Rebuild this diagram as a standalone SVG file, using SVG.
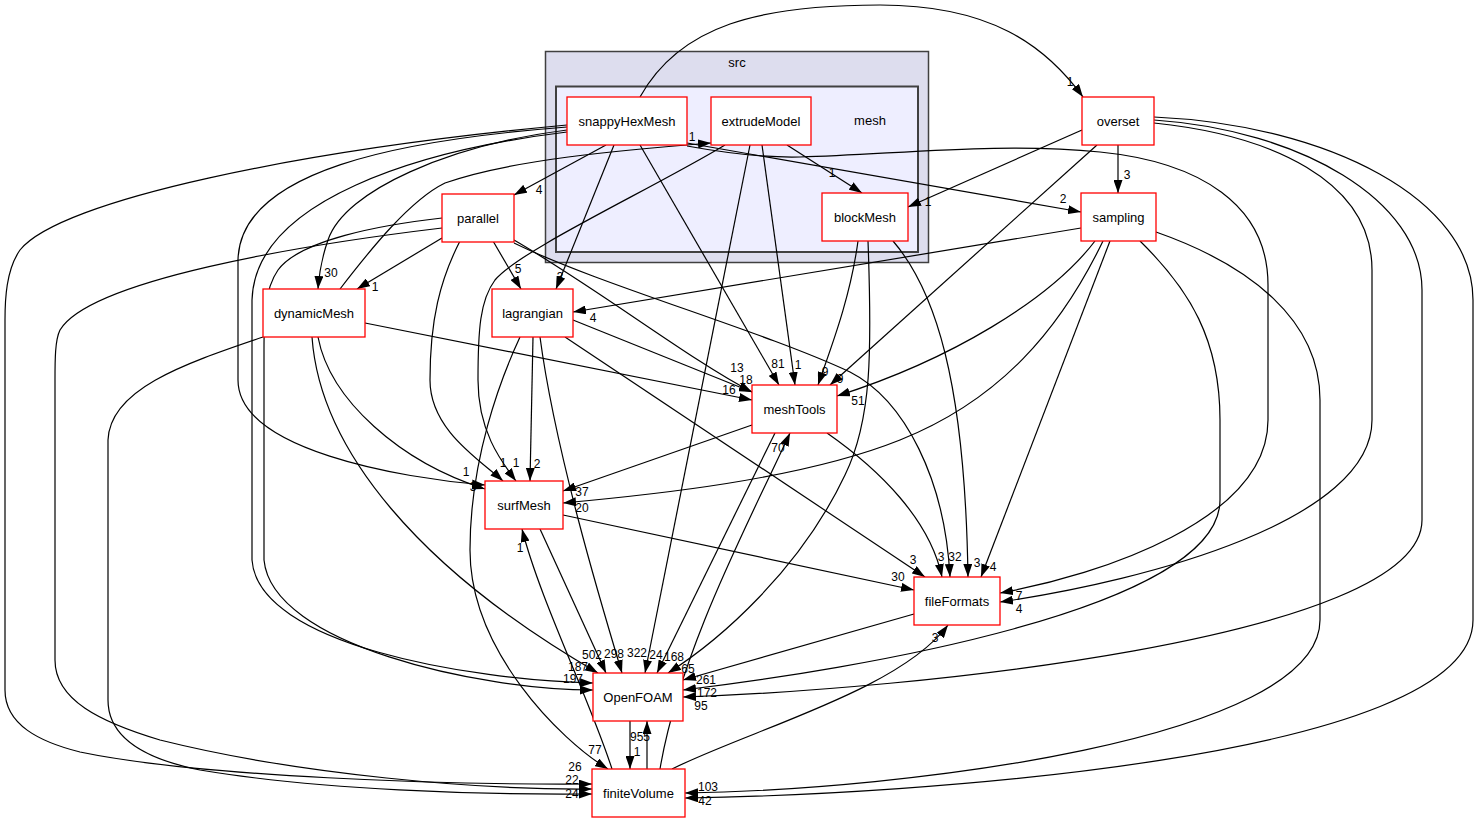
<svg xmlns="http://www.w3.org/2000/svg" width="1479" height="823" viewBox="0 0 1479 823">
<style>
.node rect{fill:#ffffff;stroke:#ff0000;stroke-width:1.3}
.node text{font-family:"Liberation Sans",Arial,sans-serif;font-size:13px;text-anchor:middle;fill:#000}
.edges path{fill:none;stroke:#000;stroke-width:1.2;marker-end:url(#ah)}
.lbl{font-family:"Liberation Sans",Arial,sans-serif;font-size:12px;text-anchor:middle;fill:#000}
.ctext{font-family:"Liberation Sans",Arial,sans-serif;font-size:13px;text-anchor:middle;fill:#000}
</style>
<defs>
<marker id="ah" viewBox="0 0 13 9" refX="13" refY="4.5" markerWidth="13" markerHeight="9" markerUnits="userSpaceOnUse" orient="auto">
<path d="M0,0 L13,4.5 L0,9 z" fill="#000"/>
</marker>
</defs>
<rect width="1479" height="823" fill="#ffffff"/>
<g id="cluster_src">
<rect x="545.5" y="51.5" width="383" height="211" fill="#ddddee" stroke="#404040" stroke-width="1.5"/>
<text class="ctext" x="737" y="67">src</text>
</g>
<g id="cluster_mesh">
<rect x="556" y="86.5" width="362" height="165.5" fill="#eeeeff" stroke="#404040" stroke-width="2"/>
<text class="ctext" x="870" y="125">mesh</text>
</g>
<g class="edges" id="connectors">
<!-- snappyHexMesh -->
<path d="M640,97 C680,25 760,5 880,5 C990,5 1045,45 1083,97"/>
<path d="M606,145 L514,195"/>
<path d="M614,145 L556,289"/>
<path d="M640,145 L779,385"/>
<path d="M687,143 L1081,212"/>
<path d="M567,130 C450,145 345,190 328,240 C321,260 319,275 318,289"/>
<path d="M567,127 C400,140 240,170 238,260 L238,380 C238,450 400,478 485,485"/>
<path d="M567,132 C420,150 255,200 252,300 L252,560 C258,645 470,680 593,683"/>
<path d="M567,125 C300,150 60,200 20,250 C6,270 5,300 5,320 L5,690 C5,725 40,742 80,752 C200,777 450,785 592,784"/>
<path d="M687,146 C720,152 760,158 800,157 C900,154 1000,142 1100,152 C1200,162 1268,205 1268,285 L1268,420 C1268,520 1100,575 1000,593"/>
<!-- extrudeModel -->
<path d="M787,145 L862,193"/>
<path d="M762,145 L795,385"/>
<path d="M750,145 L645,673"/>
<path d="M725,145 C650,190 520,250 495,280 C480,300 478,330 478,380 C478,430 500,460 516,481"/>
<!-- blockMesh -->
<path d="M858,241 C850,300 830,350 818,385"/>
<path d="M868,241 C872,350 872,420 845,475 C800,570 720,640 668,673"/>
<path d="M893,241 C935,290 965,380 968,577"/>
<!-- overset -->
<path d="M1082,130 L908,207"/>
<path d="M1097,145 L830,385"/>
<path d="M1118,145 L1118,193"/>
<path d="M1154,123 C1270,135 1372,180 1372,270 L1372,420 C1372,520 1150,580 1000,602"/>
<path d="M1154,120 C1300,130 1422,200 1422,290 L1422,520 C1422,640 900,690 683,697"/>
<path d="M1154,117 C1330,125 1473,200 1473,300 L1473,620 C1473,760 900,795 685,798"/>
<!-- sampling -->
<path d="M1156,232 C1250,265 1320,320 1320,400 L1320,620 C1320,740 900,790 685,793"/>
<path d="M1140,241 C1190,290 1220,340 1220,420 L1220,500 C1220,610 850,670 683,690"/>
<path d="M1095,241 C1050,300 950,360 837,396"/>
<path d="M1103,241 C1060,330 1000,400 900,440 C800,480 650,495 563,503"/>
<path d="M1110,241 L981,577"/>
<path d="M1081,228 L573,312"/>
<!-- parallel -->
<path d="M442,238 L357,289"/>
<path d="M493,241 L521,289"/>
<path d="M460,241 C440,280 430,320 430,380 C430,430 480,460 503,481"/>
<path d="M514,240 C600,290 690,360 752,392"/>
<path d="M514,243 C600,285 760,330 850,372 C905,400 945,480 950,577"/>
<path d="M442,218 C380,225 300,240 278,270 C264,290 264,320 264,350 L264,560 C272,645 480,690 593,690"/>
<path d="M442,228 C300,245 90,280 60,330 C55,340 55,360 55,380 L55,660 C55,700 100,722 160,740 C300,775 480,790 592,789"/>
<!-- dynamicMesh -->
<path d="M340,289 C370,250 410,200 445,183 C510,160 620,150 711,143"/>
<path d="M365,323 L752,400"/>
<path d="M318,337 C330,400 400,462 485,489"/>
<path d="M312,337 C320,450 420,570 598,673"/>
<path d="M263,337 C180,365 110,390 108,440 L108,700 C108,740 150,760 200,770 C320,790 480,795 592,794"/>
<!-- lagrangian -->
<path d="M573,320 L752,392"/>
<path d="M533,337 L530,481"/>
<path d="M540,337 C555,450 600,600 622,673"/>
<path d="M520,337 C500,380 470,460 470,550 C470,650 560,740 608,769"/>
<path d="M565,337 L925,577"/>
<!-- meshTools -->
<path d="M752,425 L563,491"/>
<path d="M827,433 C880,470 930,520 942,577"/>
<path d="M775,433 L657,673"/>
<!-- surfMesh -->
<path d="M540,529 L606,673"/>
<path d="M563,515 L914,590"/>
<!-- fileFormats -->
<path d="M914,614 L683,680"/>
<!-- finiteVolume -->
<path d="M660,769 C680,650 750,520 790,433"/>
<path d="M612,769 C590,700 540,600 522,529"/>
<path d="M672,769 C750,730 900,690 948,625"/>
<path d="M647,769 L647,721"/>
<!-- OpenFOAM -->
<path d="M630,721 L630,769"/>
</g>
<g id="node_snappyHexMesh" class="node"><rect x="567" y="97" width="120" height="48"/><text x="627" y="126">snappyHexMesh</text></g>
<g id="node_extrudeModel" class="node"><rect x="711" y="97" width="100" height="48"/><text x="761" y="126">extrudeModel</text></g>
<g id="node_blockMesh" class="node"><rect x="822" y="193" width="86" height="48"/><text x="865" y="222">blockMesh</text></g>
<g id="node_overset" class="node"><rect x="1082" y="97" width="72" height="48"/><text x="1118" y="126">overset</text></g>
<g id="node_sampling" class="node"><rect x="1081" y="193" width="75" height="48"/><text x="1118.5" y="222">sampling</text></g>
<g id="node_parallel" class="node"><rect x="442" y="194" width="72" height="48"/><text x="478" y="223">parallel</text></g>
<g id="node_dynamicMesh" class="node"><rect x="263" y="289" width="102" height="48"/><text x="314" y="318">dynamicMesh</text></g>
<g id="node_lagrangian" class="node"><rect x="492" y="289" width="81" height="48"/><text x="532.5" y="318">lagrangian</text></g>
<g id="node_meshTools" class="node"><rect x="752" y="385" width="85" height="48"/><text x="794.5" y="414">meshTools</text></g>
<g id="node_surfMesh" class="node"><rect x="485" y="481" width="78" height="48"/><text x="524" y="510">surfMesh</text></g>
<g id="node_fileFormats" class="node"><rect x="914" y="577" width="86" height="48"/><text x="957" y="606">fileFormats</text></g>
<g id="node_OpenFOAM" class="node"><rect x="593" y="673" width="90" height="48"/><text x="638" y="702">OpenFOAM</text></g>
<g id="node_finiteVolume" class="node"><rect x="592" y="769" width="93" height="48"/><text x="638.5" y="798">finiteVolume</text></g>
<g id="edge_labels">
<text class="lbl" x="1070" y="86">1</text>
<text class="lbl" x="539" y="194">4</text>
<text class="lbl" x="560" y="281">3</text>
<text class="lbl" x="778" y="368">81</text>
<text class="lbl" x="1063" y="203">2</text>
<text class="lbl" x="331" y="277">30</text>
<text class="lbl" x="375" y="291">1</text>
<text class="lbl" x="518" y="273">5</text>
<text class="lbl" x="692" y="141">1</text>
<text class="lbl" x="832" y="177">1</text>
<text class="lbl" x="928" y="206">1</text>
<text class="lbl" x="1127" y="179">3</text>
<text class="lbl" x="798" y="369">1</text>
<text class="lbl" x="825" y="376">9</text>
<text class="lbl" x="840" y="383">9</text>
<text class="lbl" x="737" y="372">13</text>
<text class="lbl" x="746" y="384">18</text>
<text class="lbl" x="729" y="394">16</text>
<text class="lbl" x="858" y="405">51</text>
<text class="lbl" x="778" y="452">70</text>
<text class="lbl" x="503" y="467">1</text>
<text class="lbl" x="516" y="467">1</text>
<text class="lbl" x="537" y="468">2</text>
<text class="lbl" x="466" y="476">1</text>
<text class="lbl" x="473" y="491">3</text>
<text class="lbl" x="582" y="496">37</text>
<text class="lbl" x="582" y="512">20</text>
<text class="lbl" x="520" y="552">1</text>
<text class="lbl" x="593" y="322">4</text>
<text class="lbl" x="913" y="564">3</text>
<text class="lbl" x="898" y="581">30</text>
<text class="lbl" x="941" y="561">3</text>
<text class="lbl" x="955" y="561">32</text>
<text class="lbl" x="977" y="567">3</text>
<text class="lbl" x="993" y="571">4</text>
<text class="lbl" x="1019" y="600">7</text>
<text class="lbl" x="1019" y="613">4</text>
<text class="lbl" x="935" y="642">3</text>
<text class="lbl" x="592" y="659">502</text>
<text class="lbl" x="578" y="671">187</text>
<text class="lbl" x="573" y="683">197</text>
<text class="lbl" x="614" y="658">298</text>
<text class="lbl" x="637" y="657">322</text>
<text class="lbl" x="656" y="659">24</text>
<text class="lbl" x="674" y="661">168</text>
<text class="lbl" x="688" y="673">65</text>
<text class="lbl" x="706" y="684">261</text>
<text class="lbl" x="707" y="697">172</text>
<text class="lbl" x="701" y="710">95</text>
<text class="lbl" x="640" y="741">955</text>
<text class="lbl" x="637" y="756">1</text>
<text class="lbl" x="595" y="754">77</text>
<text class="lbl" x="575" y="771">26</text>
<text class="lbl" x="572" y="784">22</text>
<text class="lbl" x="572" y="798">24</text>
<text class="lbl" x="708" y="791">103</text>
<text class="lbl" x="705" y="805">42</text>
</g>
</svg>
